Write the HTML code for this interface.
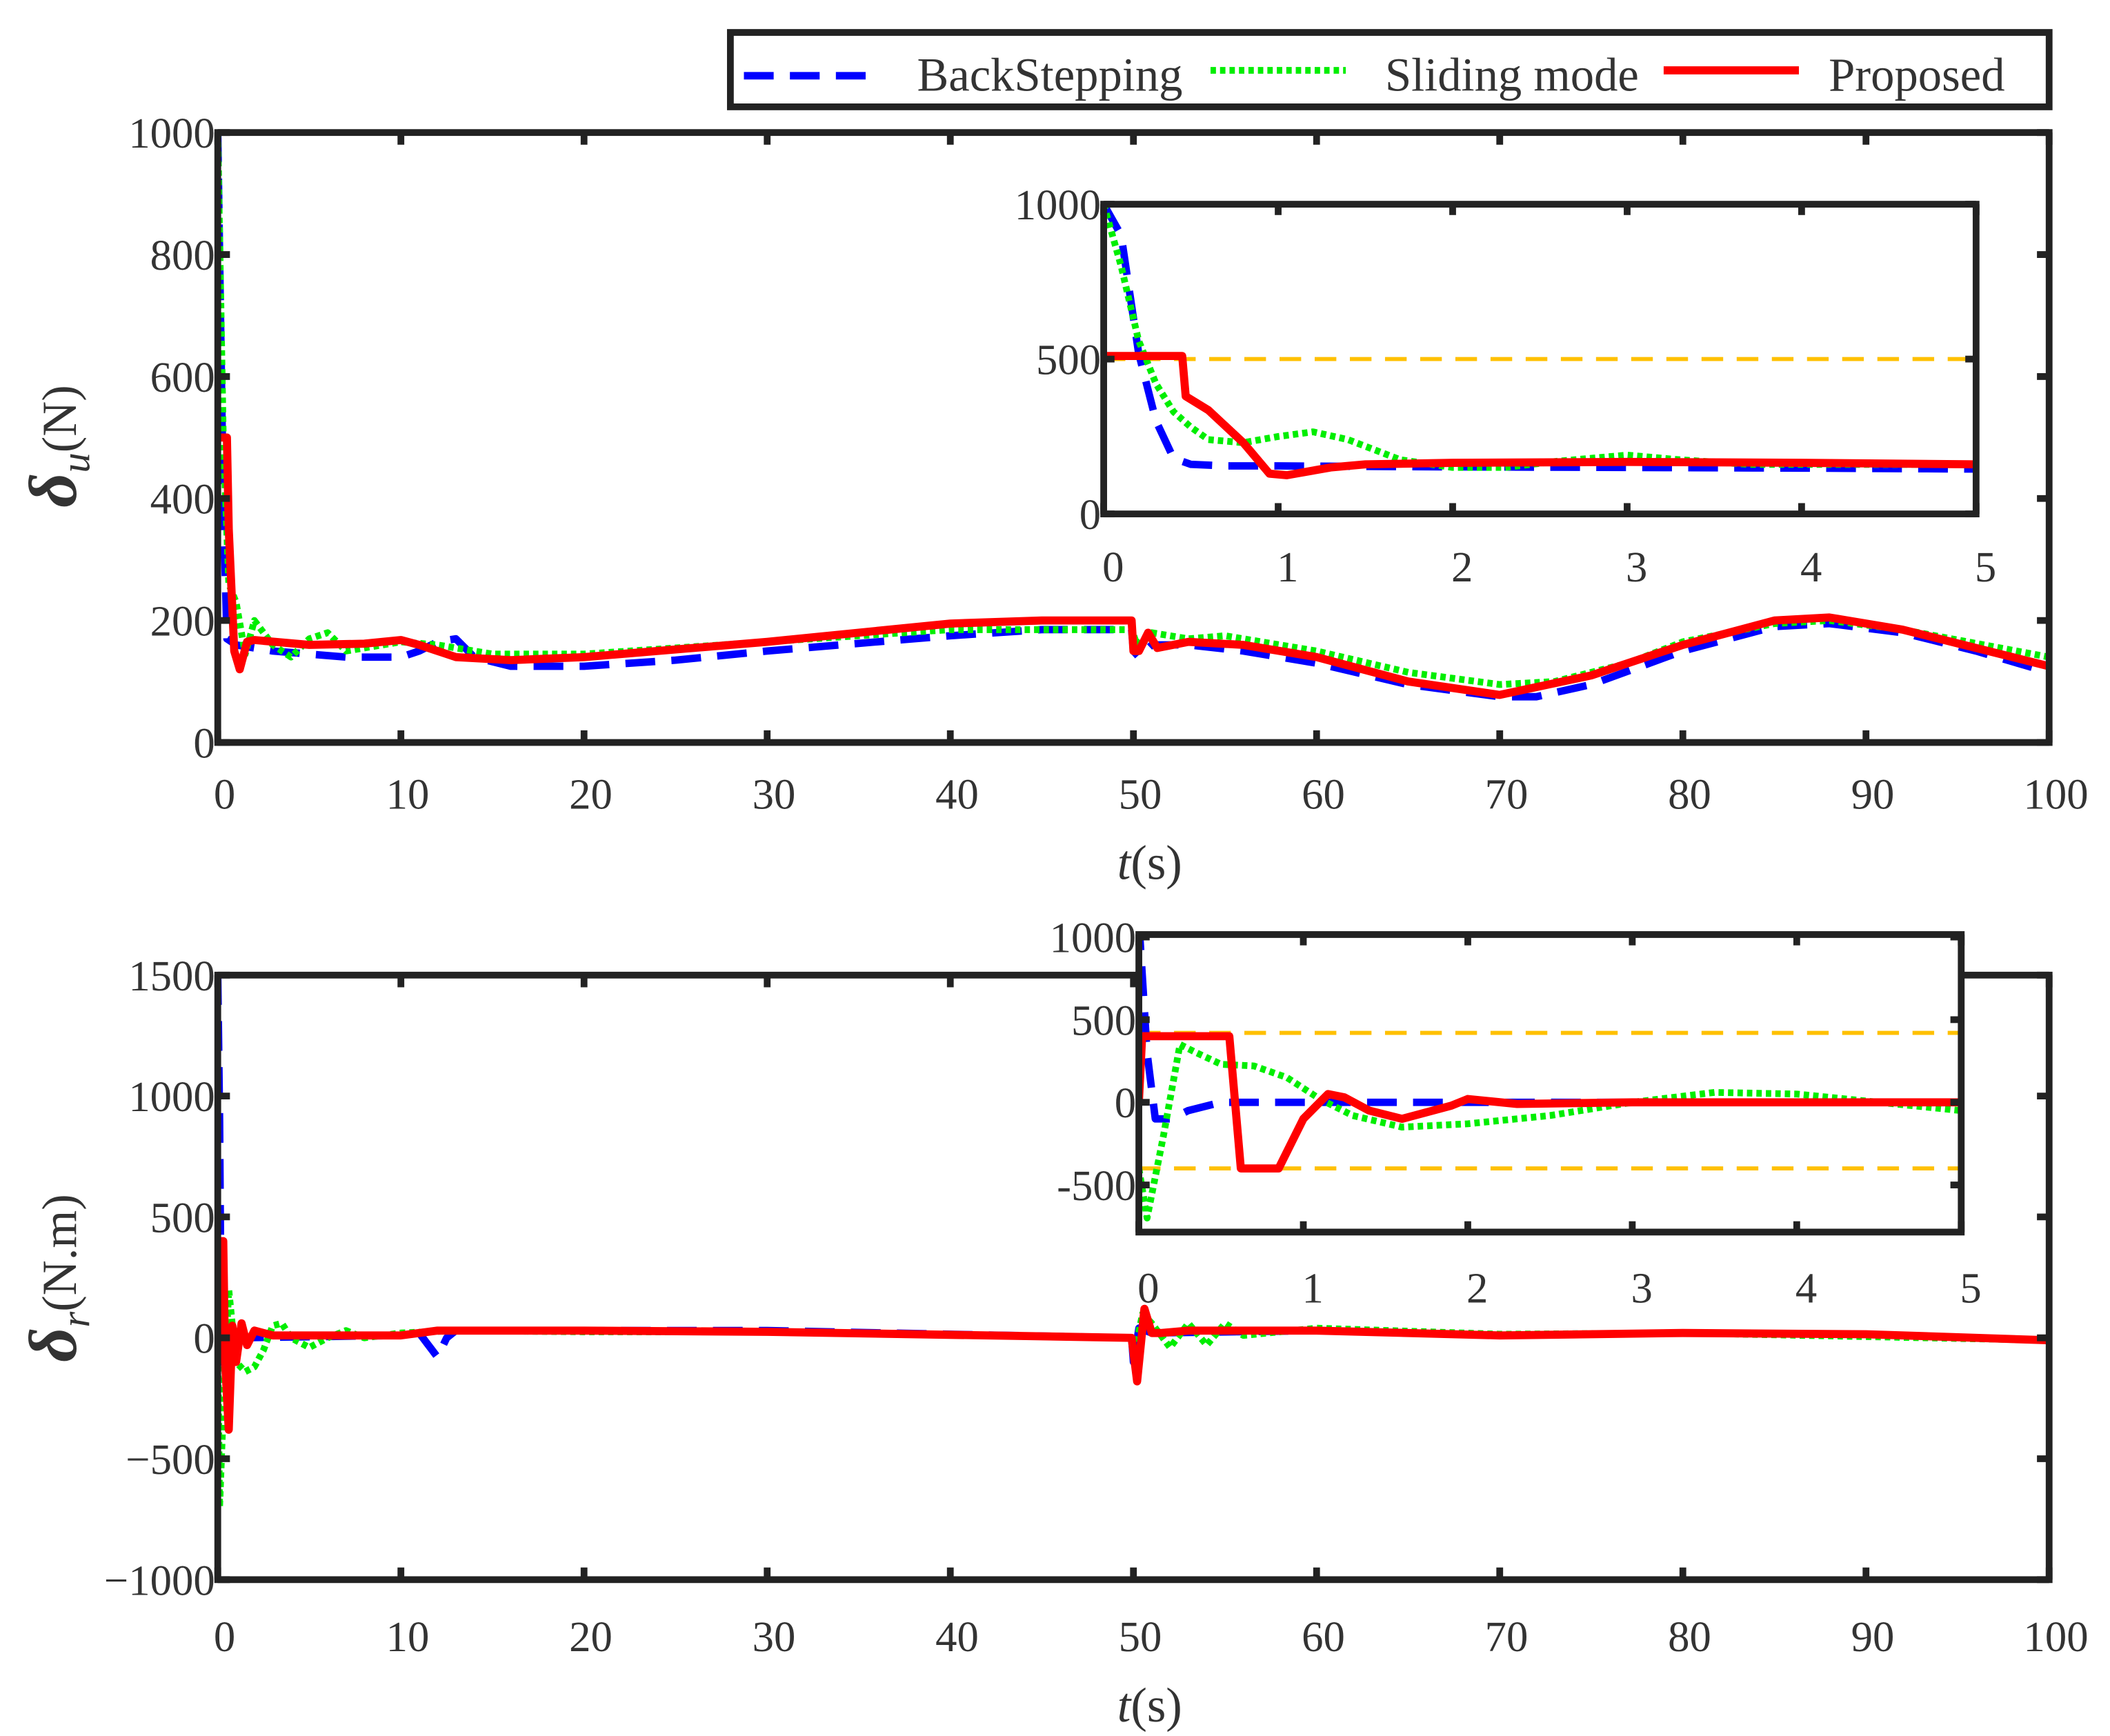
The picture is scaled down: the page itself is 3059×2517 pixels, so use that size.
<!DOCTYPE html>
<html><head><meta charset="utf-8"><style>
html,body{margin:0;padding:0;background:#fff}
svg{display:block}
text{font-family:"Liberation Serif",serif;fill:#333}
</style></head><body>
<svg id="fig" width="3059" height="2517" viewBox="0 0 1560 1283.6" xmlns="http://www.w3.org/2000/svg"></svg>
<script>
// ---------- data ----------
const topBsT=[0,0.3,0.5,1,3,7,10,11,12,13,14,16,20,25,30,40,45,49.9,50,50.3,51,53,56,60,65,70,72,75,80,85,88,92,96,100];
const topBsV=[1000,400,170,160,150,140,140,150,165,170,140,125,125,135,150,175,185,185,150,140,160,160,150,130,95,75,75,95,150,190,195,180,150,115];
const topSmT=[0,0.3,0.6,1,1.5,2,3,4,5,6,7,9,10,12,15,20,30,40,49.9,50.2,51,53,55,60,65,70,73,77,80,85,88,92,100];
const topSmV=[1000,500,260,230,145,200,160,140,170,180,150,160,165,160,145,145,165,185,185,160,180,170,175,150,115,95,100,130,165,195,200,185,140];
const topPrT=[0,0.5,0.6,0.9,1.2,1.6,2,5,8,10,11,13,16,20,30,40,45,49.9,50,50.3,50.8,51.3,53,56,60,65,70,75,80,85,88,92,100];
const topPrV=[500,500,350,150,120,165,168,160,162,168,160,140,135,140,165,195,200,200,150,150,180,155,165,160,140,100,78,110,160,200,205,185,125];
const in1BsT=[0,0.1,0.2,0.3,0.4,0.5,0.7,1,2,3,4,5];
const in1BsV=[1000,900,520,300,180,160,155,155,152,150,148,145];
const in1SmT=[0,0.1,0.2,0.3,0.4,0.5,0.6,0.8,1,1.2,1.4,1.7,2,2.3,2.6,3,3.3,3.7,4.2,5];
const in1SmV=[1000,800,560,420,330,280,240,230,250,265,240,175,150,150,170,190,175,160,160,160];
const in1PrT=[0,0.45,0.47,0.6,0.8,0.95,1.05,1.3,1.5,2,3,4,5];
const in1PrV=[510,510,380,335,230,130,125,150,160,165,168,165,160];
const in1Bounds=[500,0];
const botBsT=[0,0.1,0.2,0.4,1,10,11,12,12.5,13,20,30,49.9,50,50.3,51,60,70,80,90,100];
const botBsV=[1500,900,-100,-50,0,10,20,-80,0,30,30,30,0,-100,40,20,30,10,20,15,-10];
const botSmT=[0,0.1,0.3,0.6,1,1.5,2,2.5,3,3.5,4,5,6,7,8,10,13,20,30,49.9,50,50.5,51,52,53,54,55,56,60,70,80,100];
const botSmV=[0,-700,-300,200,-100,-140,-120,-50,50,60,0,-40,0,30,0,20,30,25,25,0,-80,100,60,-40,60,-30,60,10,40,15,20,-10];
const botPrT=[0,0.1,0.3,0.4,0.6,0.8,1,1.3,1.6,2,3,10,12,20,30,49.9,50.2,50.6,51,51.5,53,60,70,80,90,100];
const botPrV=[0,400,400,-100,-380,50,-100,60,-30,30,10,10,30,30,25,0,-180,120,20,20,30,30,10,20,15,-10];
const in2BsT=[0,0.05,0.1,0.2,0.3,0.5,1,2,3,5];
const in2BsV=[1100,300,-100,-100,-50,0,0,0,0,0];
const in2SmT=[0,0.05,0.15,0.25,0.35,0.5,0.7,0.9,1.1,1.3,1.6,2,2.5,3,3.5,4,4.5,5];
const in2SmV=[-400,-700,-200,350,300,230,220,150,20,-80,-150,-130,-80,0,60,50,0,-50];
const in2PrT=[0,0.02,0.55,0.62,0.85,1,1.15,1.25,1.4,1.6,1.9,2,2.3,3,5];
const in2PrV=[0,400,400,-400,-400,-100,50,30,-50,-100,-20,20,-10,0,0];
const in2Bounds=[420,-400];
const mainXTicks=[0,10,20,30,40,50,60,70,80,90,100];
const topYTicks=[0,200,400,600,800,1000];
const botYTicks=[-1000,-500,0,500,1000,1500];
const insXTicks=[0,1,2,3,4,5];
const in1YTicks=[0,500,1000];
const in2YTicks=[-500,0,500,1000];

const NS="http://www.w3.org/2000/svg";
const svg=document.getElementById('fig');
function el(tag,attrs,parent){const e=document.createElementNS(NS,tag);for(const k in attrs)e.setAttribute(k,attrs[k]);(parent||svg).appendChild(e);return e;}
function lin(d0,d1,r0,r1){return v=>r0+(v-d0)*(r1-r0)/(d1-d0);}
let clipN=0;
const styles={
 bs:{stroke:'#0000ff','stroke-width':5.5,'stroke-dasharray':'22 12'},
 sm:{stroke:'#00ee00','stroke-width':5,'stroke-dasharray':'4 3'},
 pr:{stroke:'#ff0000','stroke-width':6}
};
function axes(o){
 const g=el('g',{});
 
 
 const X=lin(o.xd[0],o.xd[1],o.x0,o.x1),Y=lin(o.yd[0],o.yd[1],o.y0,o.y1);
 el('rect',{x:o.x0,y:o.y1,width:o.x1-o.x0,height:o.y0-o.y1,fill:'#fff'},g);
 const id='c'+(clipN++);
 const cp=el('clipPath',{id:id},g);el('rect',{x:o.x0,y:o.y1,width:o.x1-o.x0,height:o.y0-o.y1},cp);
 const lg=el('g',{'clip-path':'url(#'+id+')'},g);
 if(o.bounds){o.bounds.forEach(b=>{const l=el('line',{x1:o.x0,x2:o.x1,y1:Y(b),y2:Y(b),stroke:'#ffc000','stroke-width':3,'stroke-dasharray':'16 10'},lg);
  });}
 o.series.forEach(s=>{const pts=s.t.map((t,i)=>X(t).toFixed(2)+','+Y(s.v[i]).toFixed(2)).join(' ');
  const p=el('polyline',Object.assign({points:pts,fill:'none','stroke-linejoin':'round'},styles[s.k]),lg);
  });
 el('rect',{x:o.x0,y:o.y1,width:o.x1-o.x0,height:o.y0-o.y1,fill:'none',stroke:'#222','stroke-width':o.bw},g);
 const tl=o.tl;
 o.xt.forEach(t=>{const x=X(t);
  el('line',{x1:x,x2:x,y1:o.y0,y2:o.y0-tl,stroke:'#222','stroke-width':o.bw},g);
  el('line',{x1:x,x2:x,y1:o.y1,y2:o.y1+tl,stroke:'#222','stroke-width':o.bw},g);
  const tx=el('text',{x:x+o.xlo,y:o.xly,'text-anchor':'middle','font-size':o.fs},g);tx.textContent=t;
  });
 o.yt.forEach(t=>{const y=Y(t);
  el('line',{x1:o.x0,x2:o.x0+tl,y1:y,y2:y,stroke:'#222','stroke-width':o.bw},g);
  el('line',{x1:o.x1,x2:o.x1-tl,y1:y,y2:y,stroke:'#222','stroke-width':o.bw},g);
  const tx=el('text',{x:o.x0-2,y:y+o.fs*0.35,'text-anchor':'end','font-size':o.fs},g);tx.textContent=(t<0&&o.minus)?'\u2212'+(-t):t;
  });
 return g;
}
axes({name:'surge-force-plot',x0:161,x1:1515,y0:549,y1:98,xd:[0,100],yd:[0,1000],xt:mainXTicks,yt:topYTicks,fs:32,bw:5,tl:9,xlo:5,xly:598,minus:true,
 series:[{k:'bs',t:topBsT,v:topBsV,name:'backstepping-line'},{k:'sm',t:topSmT,v:topSmV,name:'sliding-mode-line'},{k:'pr',t:topPrT,v:topPrV,name:'proposed-line'}]});
axes({name:'surge-force-inset',x0:816,x1:1461,y0:380,y1:151,xd:[0,5],yd:[0,1000],xt:insXTicks,yt:in1YTicks,fs:32,bw:5,tl:8,xlo:7,xly:430,bounds:in1Bounds,
 series:[{k:'bs',t:in1BsT,v:in1BsV,name:'backstepping-inset-line'},{k:'sm',t:in1SmT,v:in1SmV,name:'sliding-mode-inset-line'},{k:'pr',t:in1PrT,v:in1PrV,name:'proposed-inset-line'}]});
axes({name:'yaw-moment-plot',x0:161,x1:1515,y0:1168,y1:721,xd:[0,100],yd:[-1000,1500],xt:mainXTicks,yt:botYTicks,fs:32,bw:5,tl:9,xlo:5,xly:1221,minus:true,
 series:[{k:'bs',t:botBsT,v:botBsV,name:'backstepping-line'},{k:'sm',t:botSmT,v:botSmV,name:'sliding-mode-line'},{k:'pr',t:botPrT,v:botPrV,name:'proposed-line'}]});
axes({name:'yaw-moment-inset',x0:842,x1:1450,y0:911,y1:691,xd:[0,5],yd:[-785,1015],xt:insXTicks,yt:in2YTicks,fs:32,bw:5,tl:8,xlo:7,xly:963,bounds:in2Bounds,
 series:[{k:'bs',t:in2BsT,v:in2BsV,name:'backstepping-inset-line'},{k:'sm',t:in2SmT,v:in2SmV,name:'sliding-mode-inset-line'},{k:'pr',t:in2PrT,v:in2PrV,name:'proposed-inset-line'}]});
</script>
<svg width="3059" height="2517" viewBox="0 0 1560 1283.6" style="position:absolute;left:0;top:0" xmlns="http://www.w3.org/2000/svg">
<text x="850" y="650" text-anchor="middle" font-size="36"><tspan font-style="italic">t</tspan>(s)</text>
<text x="850" y="1273" text-anchor="middle" font-size="36"><tspan font-style="italic">t</tspan>(s)</text>
<text transform="translate(56,330) rotate(-90)" text-anchor="middle" font-size="36"><tspan font-size="50" font-weight="bold" font-style="italic">δ</tspan><tspan font-style="italic" font-size="30" dy="10">u</tspan><tspan dy="-10">(N)</tspan></text>
<text transform="translate(56,945) rotate(-90)" text-anchor="middle" font-size="36"><tspan font-size="50" font-weight="bold" font-style="italic">δ</tspan><tspan font-style="italic" font-size="30" dy="10">r</tspan><tspan dy="-10">(N.m)</tspan></text>
<g>
<rect x="540" y="24" width="975" height="55" fill="#fff" stroke="#222" stroke-width="5"/>
<line x1="550" x2="650" y1="56" y2="56" stroke="#0000ff" stroke-width="5.5" stroke-dasharray="22 12"/>
<text x="678" y="67" font-size="35">BackStepping</text>
<line x1="895" x2="995" y1="52" y2="52" stroke="#00ee00" stroke-width="5" stroke-dasharray="4 3"/>
<text x="1024" y="67" font-size="35">Sliding mode</text>
<line x1="1230" x2="1330" y1="52" y2="52" stroke="#ff0000" stroke-width="6"/>
<text x="1352" y="67" font-size="35">Proposed</text>
</g>
</svg>
</body></html>
